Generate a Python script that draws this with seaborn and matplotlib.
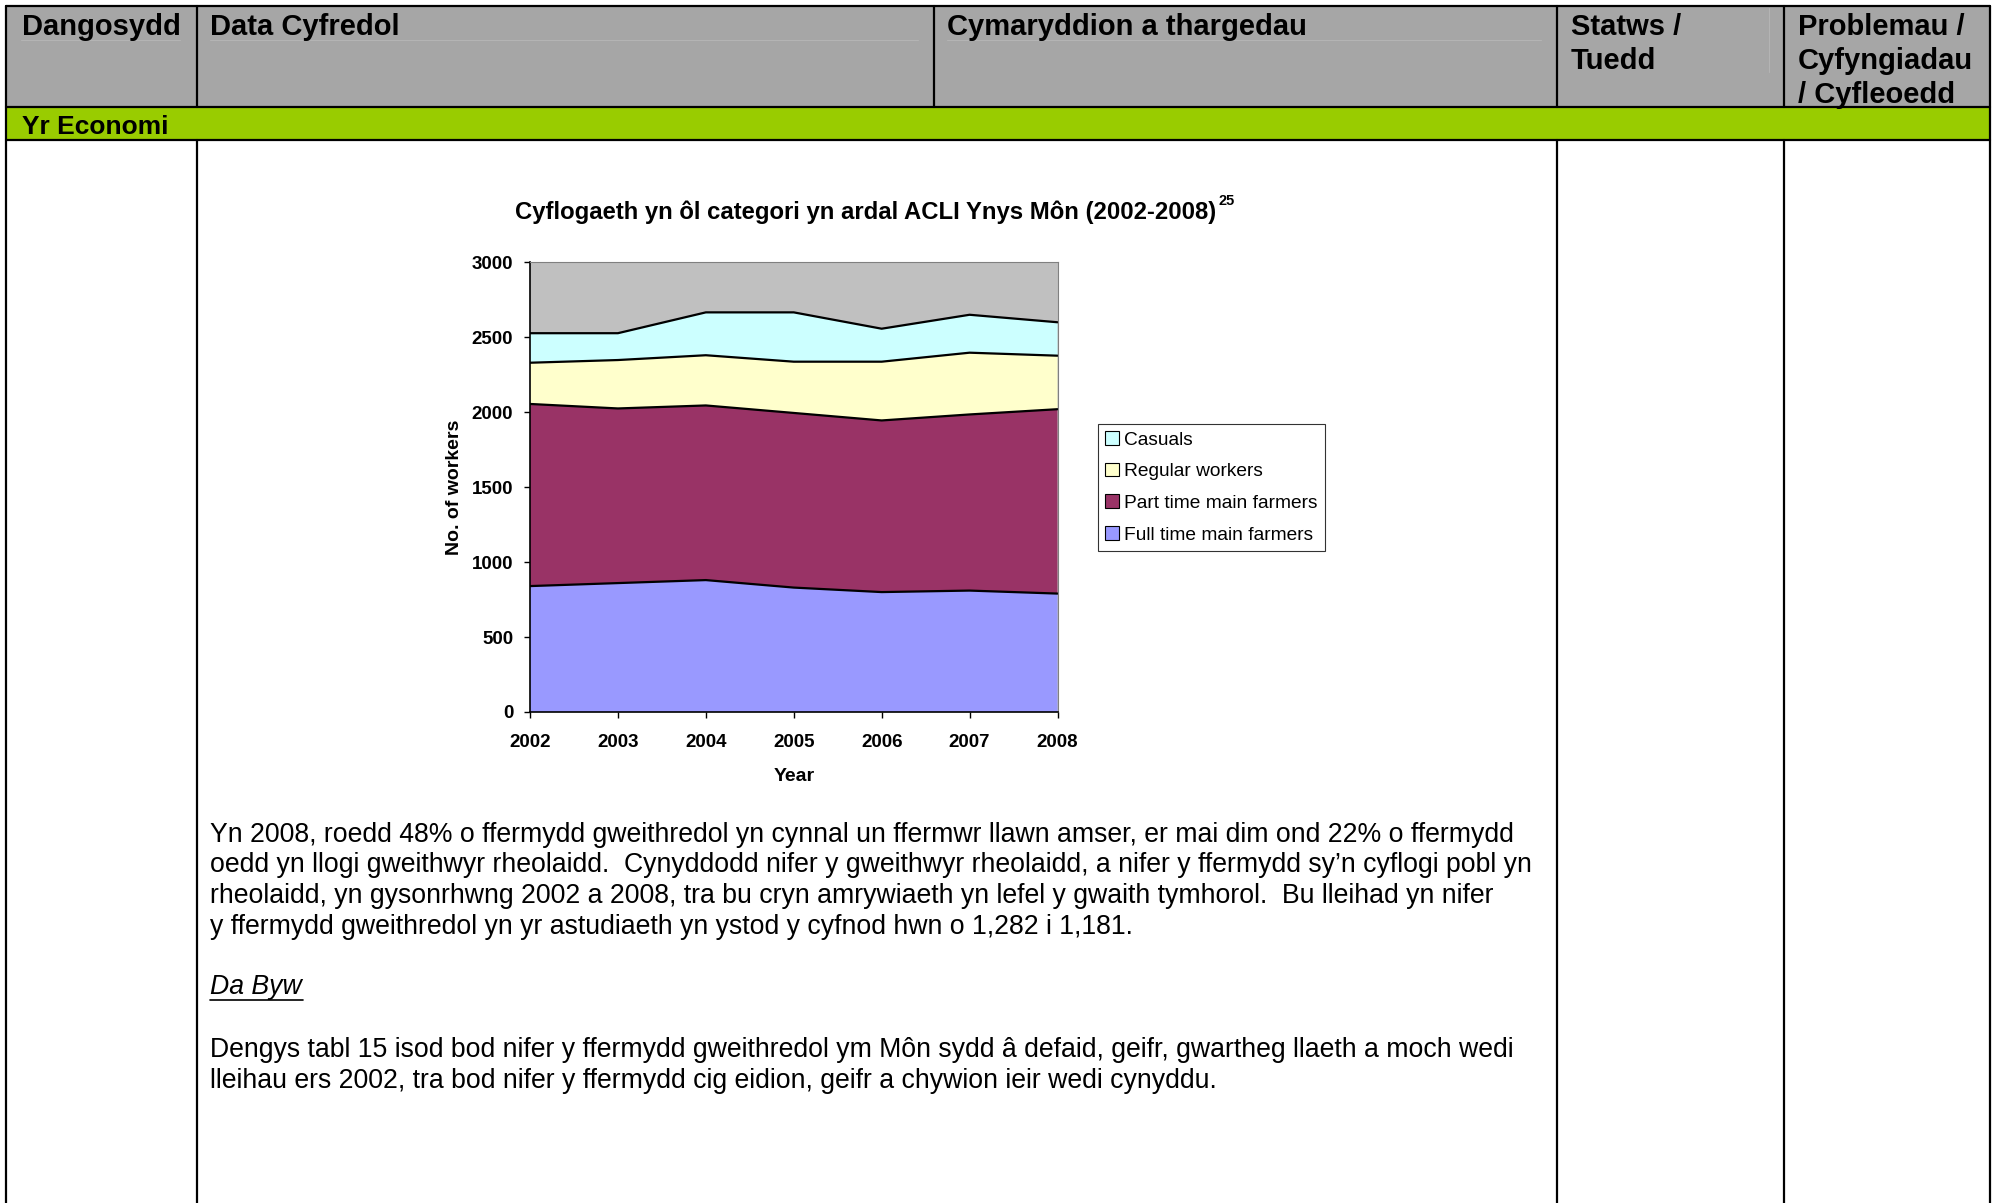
import numpy as np
import pandas as pd
import matplotlib
matplotlib.use("Agg")
import matplotlib.pyplot as plt
import seaborn as sns
from matplotlib.patches import Rectangle, Patch

# ---------------- data ----------------
years = [2002, 2003, 2004, 2005, 2006, 2007, 2008]
full_time = [840, 860, 880, 830, 800, 810, 790]
part_time = [1215, 1165, 1165, 1165, 1145, 1175, 1230]
regular = [275, 323, 335, 342, 392, 412, 357]
casuals = [197, 179, 286, 329, 220, 253, 223]
series_names = ["Full time main farmers", "Part time main farmers", "Regular workers", "Casuals"]
series_colors = ["#9999FF", "#993366", "#FFFFCC", "#CCFFFF"]
y_ticks = [0, 500, 1000, 1500, 2000, 2500, 3000]

header_cols = ["Dangosydd", "Data Cyfredol", "Cymaryddion a thargedau", "Statws /\nTuedd",
               "Problemau /\nCyfyngiadau\n/ Cyfleoedd"]
section = "Yr Economi"
chart_title = "Cyflogaeth yn ôl categori yn ardal ACLI Ynys Môn (2002-2008)"
chart_title_sup = "25"
para1 = ["Yn 2008, roedd 48% o ffermydd gweithredol yn cynnal un ffermwr llawn amser, er mai dim ond 22% o ffermydd",
         "oedd yn llogi gweithwyr rheolaidd.  Cynyddodd nifer y gweithwyr rheolaidd, a nifer y ffermydd sy’n cyflogi pobl yn",
         "rheolaidd, yn gysonrhwng 2002 a 2008, tra bu cryn amrywiaeth yn lefel y gwaith tymhorol.  Bu lleihad yn nifer",
         "y ffermydd gweithredol yn yr astudiaeth yn ystod y cyfnod hwn o 1,282 i 1,181."]
subhead = "Da Byw"
para2 = ["Dengys tabl 15 isod bod nifer y ffermydd gweithredol ym Môn sydd â defaid, geifr, gwartheg llaeth a moch wedi",
         "lleihau ers 2002, tra bod nifer y ffermydd cig eidion, geifr a chywion ieir wedi cynyddu."]

# ---------------- style ----------------
sns.set_theme(style="white")
plt.rcParams["font.family"] = ["Liberation Sans", "DejaVu Sans"]
for k in ["text.color", "axes.labelcolor", "xtick.color", "ytick.color"]:
    plt.rcParams[k] = "black"

W, H = 1993, 1203
fig = plt.figure(figsize=(W / 100, H / 100), dpi=100)
page = fig.add_axes([0, 0, 1, 1])
page.set_xlim(0, W)
page.set_ylim(H, 0)
page.axis("off")

# table structure
L, R, T = 6, 1990, 6
page.add_patch(Rectangle((L, T), R - L, 107 - T, fc="#A6A6A6", ec="none"))
page.add_patch(Rectangle((L, 107), R - L, 33, fc="#99CC00", ec="none"))
lw = 1.6
page.plot([L, R], [T, T], color="black", lw=lw)
page.plot([L, R], [107, 107], color="black", lw=lw)
page.plot([L, R], [140, 140], color="black", lw=lw)
for x in [L, R]:
    page.plot([x, x], [T, H], color="black", lw=lw)
for x in [197, 934, 1557, 1784]:
    page.plot([x, x], [T, 107], color="black", lw=lw)
for x in [197, 1557, 1784]:
    page.plot([x, x], [140, H], color="black", lw=lw)
# faint lines in header
for x0, x1 in [(21, 180), (210, 918), (947, 1541)]:
    page.plot([x0, x1], [40, 40], color="#B4B4B4", lw=0.8)
page.plot([1769, 1769], [8, 72], color="#B4B4B4", lw=0.8)

hx = [22, 210, 947, 1571, 1798]
for x, t in zip(hx, header_cols):
    for i, line in enumerate(t.split("\n")):
        page.text(x, 27 + 34 * i, line, fontsize=21, fontweight="bold", va="center", ha="left")
page.text(22, 126.5, section, fontsize=19, fontweight="bold", va="center", ha="left")

# body text
fs_body = 19.2
for i, line in enumerate(para1):
    page.text(210, 835 + 30.5 * i, line, fontsize=fs_body, va="center", ha="left")
page.text(210, 987, subhead, fontsize=fs_body, style="italic", va="center", ha="left")
page.plot([210, 303], [1000, 1000], color="black", lw=1.2)
for i, line in enumerate(para2):
    page.text(210, 1050 + 30.5 * i, line, fontsize=fs_body, va="center", ha="left")

# chart title
ttl = page.text(515, 212, chart_title, fontsize=17.2, fontweight="bold", va="center", ha="left")
fig.canvas.draw()
bb = ttl.get_window_extent()
inv = page.transData.inverted()
x_sup = inv.transform((bb.x1, bb.y1))[0] + 2
page.text(x_sup, 201, chart_title_sup, fontsize=10.5, fontweight="bold", va="center", ha="left")

# ---------------- chart ----------------
ax = fig.add_axes([530 / W, 1 - 712 / H, 527.5 / W, 449.7 / H])
ax.set_facecolor("#C0C0C0")
stack = [full_time, part_time, regular, casuals]
ax.stackplot(years, *stack, colors=series_colors, edgecolor="none")
cum = np.cumsum(np.array(stack), axis=0)
df = pd.DataFrame({"Year": np.tile(years, 4), "value": cum.ravel(),
                   "series": np.repeat(series_names, len(years))})
sns.lineplot(data=df, x="Year", y="value", units="series", estimator=None, color="black",
             lw=1.6, ax=ax, legend=False)
ax.set_xlim(2002, 2008)
ax.set_ylim(0, 3000)
ax.set_xticks(years)
ax.set_yticks(y_ticks)
ax.set_xticklabels([str(y) for y in years], fontsize=13.5, fontweight="bold")
ax.set_yticklabels([str(v) for v in y_ticks], fontsize=13.5, fontweight="bold")
ax.tick_params(axis="both", which="both", direction="out", length=4, width=1, color="black",
               bottom=True, left=True)
ax.tick_params(axis="y", pad=8)
ax.tick_params(axis="x", pad=11.5)
for s in ["left", "bottom"]:
    ax.spines[s].set_color("black")
    ax.spines[s].set_linewidth(1.2)
for s in ["top", "right"]:
    ax.spines[s].set_color("#808080")
    ax.spines[s].set_linewidth(0.8)
ax.set_xlabel("Year", fontsize=14, fontweight="bold")
ax.set_ylabel("No. of workers", fontsize=14, fontweight="bold")
ax.yaxis.set_label_coords(-0.127, 0.5)
ax.xaxis.set_label_coords(0.5, -0.124)
ax.grid(False)

handles = [Patch(fc=c, ec="black", lw=0.8) for c in series_colors][::-1]
labels = series_names[::-1]
leg = fig.legend(handles, labels, loc="upper left", bbox_to_anchor=(1098 / W, 1 - 424 / H),
                 bbox_transform=fig.transFigure, borderaxespad=0, frameon=True, fancybox=False,
                 fontsize=13.8, handlelength=0.7, handleheight=0.7, handletextpad=0.28,
                 labelspacing=0.74, borderpad=0.38)
leg.get_frame().set_edgecolor("black")
leg.get_frame().set_linewidth(0.8)

fig.savefig("out.png", dpi=100)
